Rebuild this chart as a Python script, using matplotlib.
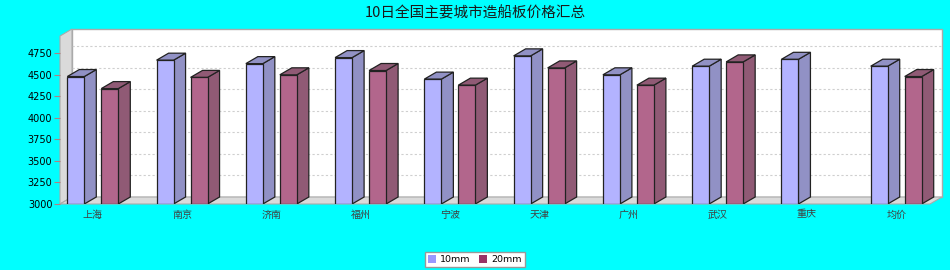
import numpy as np
import matplotlib
matplotlib.use("Agg")
import matplotlib.pyplot as plt
from matplotlib.patches import Polygon, Patch

# ---- data -------------------------------------------------------------
cities = ["上海", "南京", "济南", "福州", "宁波", "天津", "广州", "武汉", "重庆", "均价"]
price_10mm = [4480, 4670, 4630, 4700, 4450, 4720, 4500, 4600, 4680, 4600]
price_20mm = [4340, 4470, 4500, 4550, 4380, 4580, 4380, 4650, np.nan, 4480]
series_names = ["10mm", "20mm"]
y_ticks = [3000, 3250, 3500, 3750, 4000, 4250, 4500, 4750]
chart_title = "10日全国主要城市造船板价格汇总"

# ---- style ------------------------------------------------------------
BG = "#00FFFF"
front_colors = ["#B3B3FF", "#B2668C"]
side_colors = ["#9191C5", "#905A75"]
legend_colors = ["#9999FF", "#993366"]
cjk = ["Noto Sans CJK SC", "DejaVu Sans"]

W, H = 950, 270
fig = plt.figure(figsize=(W / 100, H / 100), dpi=100, facecolor=BG)

# plot box in pixels (left, right, bottom, top), includes the 3D depth
px_left, px_right, px_bottom, px_top = 60, 942, 204, 29
ax = fig.add_axes([px_left / W, 1 - px_bottom / H,
                   (px_right - px_left) / W, (px_bottom - px_top) / H])
ax.set_facecolor("none")
x0, x1 = -0.3674, 9.513
y0, y1 = 3000, 5032
ax.set_xlim(x0, x1)
ax.set_ylim(y0, y1)
ax.set_autoscale_on(False)
for sp in ax.spines.values():
    sp.set_visible(False)

# depth of the 3D extrusion converted from pixels to data units
depth_px = np.array([12.0, 7.0])
base = ax.transData.transform((0.0, y0))
dx, dy = ax.transData.inverted().transform(base + depth_px) - np.array([0.0, y0])

# walls and floor
wall_edge = "#AAAAAA"
wall_fill = "#DADADA"
ax.add_patch(Polygon([(x0 + dx, y0 + dy), (x1, y0 + dy), (x1, y1), (x0 + dx, y1)],
                     closed=True, facecolor="white", edgecolor=wall_edge, lw=1.0,
                     zorder=0, clip_on=False))
ax.add_patch(Polygon([(x0, y0), (x0, y1 - dy), (x0 + dx, y1), (x0 + dx, y0 + dy)],
                     closed=True, facecolor=wall_fill, edgecolor=wall_edge, lw=0.8,
                     zorder=1, clip_on=False))
ax.add_patch(Polygon([(x0, y0), (x1 - dx, y0), (x1, y0 + dy), (x0 + dx, y0 + dy)],
                     closed=True, facecolor=wall_fill, edgecolor=wall_edge, lw=0.8,
                     zorder=1, clip_on=False))

# gridlines on the back wall
for v in y_ticks[1:]:
    ax.plot([x0 + dx, x1], [v + dy, v + dy], color="#CFCFCF", lw=0.8,
            ls=(0, (2, 2)), zorder=0.5)

# bars
x = np.arange(len(cities))
bar_w = 0.1904
offsets = [-bar_w, bar_w]
for s, vals in enumerate([price_10mm, price_20mm]):
    vals = np.asarray(vals, dtype=float)
    xc = x + offsets[s]
    for xi, v in zip(xc, vals):
        if np.isnan(v):
            continue
        xl, xr = xi - bar_w / 2, xi + bar_w / 2
        side = [(xr, y0), (xr + dx, y0 + dy), (xr + dx, v + dy), (xr, v)]
        topf = [(xl, v), (xl + dx, v + dy), (xr + dx, v + dy), (xr, v)]
        for poly in (side, topf):
            ax.add_patch(Polygon(poly, closed=True, facecolor=side_colors[s],
                                 edgecolor="#222222", lw=0.9, zorder=4))
    mask = ~np.isnan(vals)
    ax.bar(xc[mask], vals[mask] - y0, bottom=y0, width=bar_w,
           color=front_colors[s], edgecolor="#222222", lw=0.9, zorder=5)

# axes ticks
ax.set_yticks(y_ticks)
ax.set_yticklabels([str(t) for t in y_ticks], fontsize=7, color="black",
                   family="DejaVu Sans")
ax.tick_params(axis="y", length=4, width=0.8, color="#B08080", pad=1.5)
ax.set_xticks(x)
ax.set_xticklabels(cities, fontsize=7.2, color="#404040", family=cjk)
ax.tick_params(axis="x", length=0, pad=4)

# title
fig.text(0.5, 1 - 13 / H, chart_title, ha="center", va="center",
         fontsize=10.5, family=cjk, color="#1A1A1A")

# legend
handles = [Patch(facecolor=c, edgecolor="none", label=n)
           for c, n in zip(legend_colors, series_names)]
leg = fig.legend(handles=handles, ncol=2, loc="center",
                 bbox_to_anchor=(0.5, 1 - 259.5 / H),
                 handlelength=0.85, handleheight=0.85, handletextpad=0.45,
                 columnspacing=0.9, borderpad=0.3, fancybox=False,
                 edgecolor="#999999", framealpha=1.0, facecolor="white",
                 prop={"family": "DejaVu Sans", "size": 6.8})
leg.get_frame().set_linewidth(1.0)

fig.savefig("out.png", dpi=100, facecolor=BG)
